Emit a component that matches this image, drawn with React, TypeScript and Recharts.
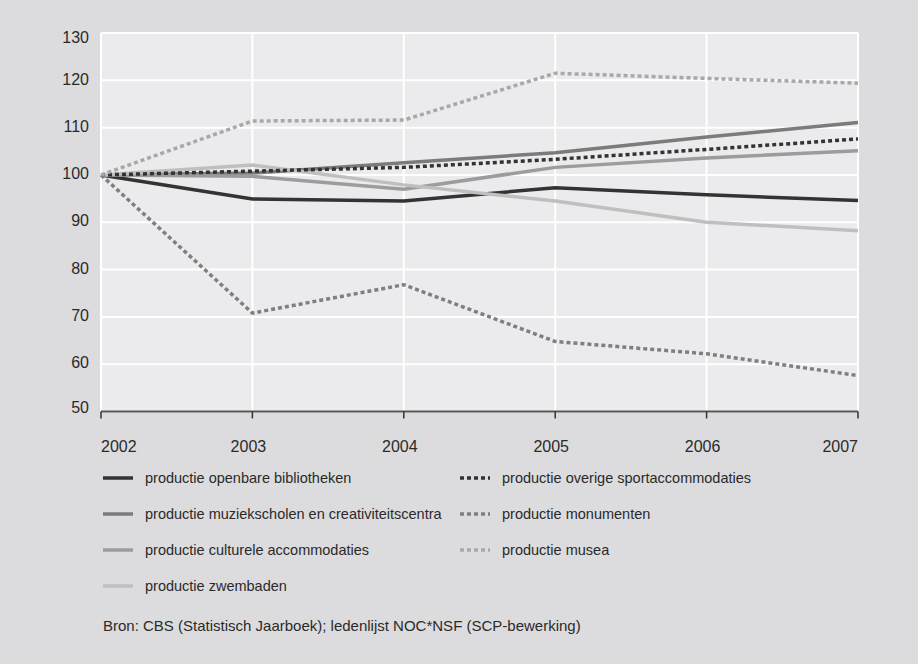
import React from 'react';
import { LineChart, Line, XAxis, YAxis, CartesianGrid } from 'recharts';

const years = ['2002', '2003', '2004', '2005', '2006', '2007'];
const bibliotheken = [100, 94.9, 94.5, 97.3, 95.8, 94.6];
const muziekscholen = [100, 100.4, 102.6, 104.7, 108.0, 111.1];
const culturele = [100, 99.7, 97.0, 101.6, 103.6, 105.1];
const zwembaden = [100, 102.1, 97.9, 94.5, 90.0, 88.2];
const sport = [100, 100.8, 101.6, 103.3, 105.4, 107.6];
const monumenten = [100, 70.8, 76.8, 64.8, 62.2, 57.6];
const musea = [100, 111.4, 111.6, 121.5, 120.4, 119.4];
const yTicks = [50, 60, 70, 80, 90, 100, 110, 120, 130];

const data = years.map((y, i) => ({
  year: y,
  bib: bibliotheken[i],
  muz: muziekscholen[i],
  cul: culturele[i],
  zwe: zwembaden[i],
  spo: sport[i],
  mon: monumenten[i],
  mus: musea[i],
}));

const series = [
  { key: 'bib', name: 'productie openbare bibliotheken', color: '#333333', dash: undefined },
  { key: 'muz', name: 'productie muziekscholen en creativiteitscentra', color: '#7b7b7b', dash: undefined },
  { key: 'cul', name: 'productie culturele accommodaties', color: '#9c9c9c', dash: undefined },
  { key: 'zwe', name: 'productie zwembaden', color: '#bfbfbf', dash: undefined },
  { key: 'spo', name: 'productie overige sportaccommodaties', color: '#333333', dash: '4 3' },
  { key: 'mon', name: 'productie monumenten', color: '#7f7f7f', dash: '4 3' },
  { key: 'mus', name: 'productie musea', color: '#a8a8a8', dash: '4 3' },
];

const FONT = '"Liberation Sans", Arial, sans-serif';

const XTick = (props: any) => {
  const { x, y, payload, index } = props;
  const last = years.length - 1;
  const anchor = index === 0 ? 'start' : index === last ? 'end' : 'middle';
  const dx = index === 0 || index === last ? 0 : -4;
  return (
    <text x={x + dx} y={y + 27} textAnchor={anchor} fontSize={16} fill="#2a2a2a" fontFamily={FONT} dominantBaseline="middle">
      {payload.value}
    </text>
  );
};

const YTick = (props: any) => {
  const { y, payload } = props;
  const shift = payload.value === 130 ? 6 : payload.value === 50 ? -3 : 0;
  return (
    <text x={89} y={y + shift} textAnchor="end" fontSize={16} fill="#2a2a2a" fontFamily={FONT} dominantBaseline="middle">
      {payload.value}
    </text>
  );
};

const leftCol = series.slice(0, 4);
const rightCol = series.slice(4);
const rowYs = [478, 514, 550, 586];

export default function App() {
  return (
    <div style={{ position: 'absolute', left: 0, top: 0, width: 918, height: 664, background: '#dcdcde', fontFamily: FONT }}>
      <LineChart width={918} height={460} data={data} margin={{ top: 33, right: 60, left: 0, bottom: 0 }}>
        <CartesianGrid fill="#ebebed" stroke="#ffffff" strokeWidth={2} />
        <XAxis
          dataKey="year"
          height={48.5}
          padding={{ left: 0, right: 0 }}
          axisLine={{ stroke: '#555555', strokeWidth: 2 }}
          tickLine={{ stroke: '#333333', strokeWidth: 1.5 }}
          tickSize={7}
          tick={<XTick />}
          interval={0}
        />
        <YAxis
          type="number"
          domain={[50, 130]}
          ticks={yTicks}
          width={101}
          axisLine={false}
          tickLine={false}
          tick={<YTick />}
          interval={0}
        />
        {series.map((s) => (
          <Line
            key={s.key}
            type="linear"
            dataKey={s.key}
            name={s.name}
            stroke={s.color}
            strokeWidth={3.5}
            strokeDasharray={s.dash}
            dot={false}
            activeDot={false}
            isAnimationActive={false}
          />
        ))}
      </LineChart>
      {[leftCol, rightCol].map((col, ci) =>
        col.map((s, ri) => (
          <div key={s.key} style={{ position: 'absolute', left: ci === 0 ? 103 : 460, top: rowYs[ri] - 10, height: 20, display: 'flex', alignItems: 'center' }}>
            <svg width={30} height={6} style={{ display: 'block' }}>
              <line x1={0} y1={3} x2={30} y2={3} stroke={s.color} strokeWidth={3.5} strokeDasharray={s.dash} />
            </svg>
            <span style={{ marginLeft: 12, fontSize: 14.5, color: '#2a2a2a', whiteSpace: 'nowrap' }}>{s.name}</span>
          </div>
        ))
      )}
      <div style={{ position: 'absolute', left: 103, top: 615, height: 20, display: 'flex', alignItems: 'center', fontSize: 15, color: '#2a2a2a', whiteSpace: 'nowrap' }}>
        Bron: CBS (Statistisch Jaarboek); ledenlijst NOC*NSF (SCP-bewerking)
      </div>
    </div>
  );
}
